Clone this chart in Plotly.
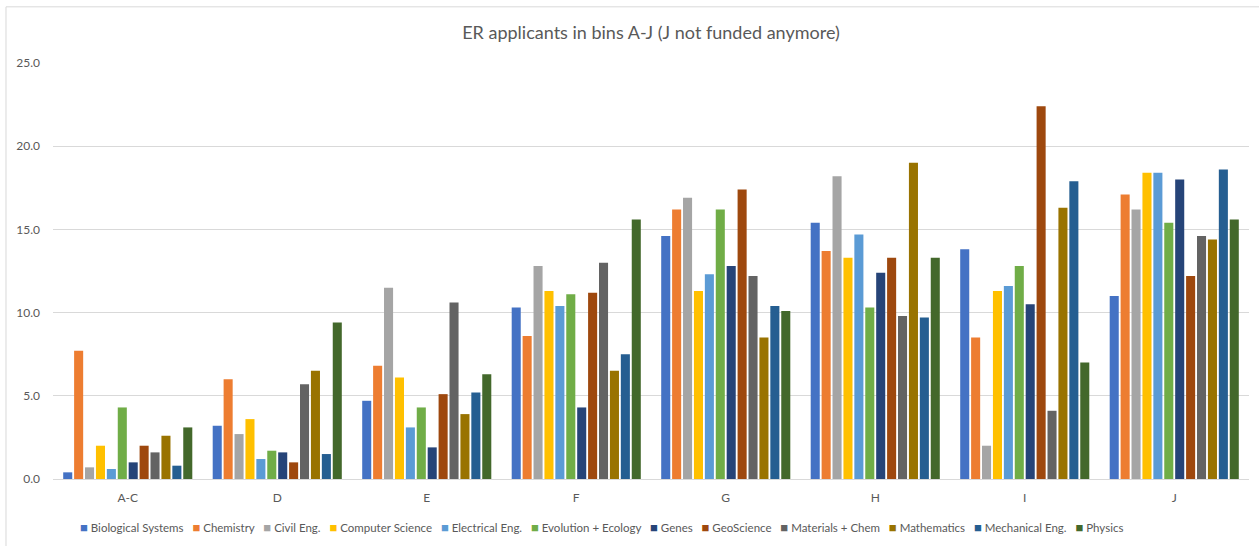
import plotly.graph_objects as go

categories = ["A-C", "D", "E", "F", "G", "H", "I", "J"]

series_names = [
    "Biological Systems", "Chemistry", "Civil Eng.", "Computer Science",
    "Electrical Eng.", "Evolution + Ecology", "Genes", "GeoScience",
    "Materials + Chem", "Mathematics", "Mechanical Eng.", "Physics",
]

series_colors = [
    "#4472C4", "#ED7D31", "#A5A5A5", "#FFC000", "#5B9BD5", "#70AD47",
    "#264478", "#9E480E", "#636363", "#997300", "#255E91", "#43682B",
]

bio = [0.4, 3.2, 4.7, 10.3, 14.6, 15.4, 13.8, 11.0]
chem = [7.7, 6.0, 6.8, 8.6, 16.2, 13.7, 8.5, 17.1]
civil = [0.7, 2.7, 11.5, 12.8, 16.9, 18.2, 2.0, 16.2]
cs = [2.0, 3.6, 6.1, 11.3, 11.3, 13.3, 11.3, 18.4]
ee = [0.6, 1.2, 3.1, 10.4, 12.3, 14.7, 11.6, 18.4]
evo = [4.3, 1.7, 4.3, 11.1, 16.2, 10.3, 12.8, 15.4]
genes = [1.0, 1.6, 1.9, 4.3, 12.8, 12.4, 10.5, 18.0]
geo = [2.0, 1.0, 5.1, 11.2, 17.4, 13.3, 22.4, 12.2]
materials = [1.6, 5.7, 10.6, 13.0, 12.2, 9.8, 4.1, 14.6]
math = [2.6, 6.5, 3.9, 6.5, 8.5, 19.0, 16.3, 14.4]
mech = [0.8, 1.5, 5.2, 7.5, 10.4, 9.7, 17.9, 18.6]
physics = [3.1, 9.4, 6.3, 15.6, 10.1, 13.3, 7.0, 15.6]

series_values = [bio, chem, civil, cs, ee, evo, genes, geo, materials, math, mech, physics]

title_text = "ER applicants in bins A-J (J not funded anymore)"
y_tick_vals = [0, 5, 10, 15, 20, 25]
y_tick_text = ["0.0", "5.0", "10.0", "15.0", "20.0", "25.0"]

FONT = "Lato"
TEXT_COLOR = "#595959"
GRID = "#D9D9D9"

fig = go.Figure()
for name, color, vals in zip(series_names, series_colors, series_values):
    fig.add_trace(go.Bar(
        name=name, x=categories, y=vals,
        marker=dict(color=color, line=dict(width=0)),
    ))

# legend drawn as a single centered line of text built from the series lists
legend_parts = [
    f'<span style="color:{c};font-size:13px">■</span>\u00a0{n}'
    for n, c in zip(series_names, series_colors)
]
legend_text = "\u00a0\u00a0\u00a0".join(legend_parts)

fig.update_layout(
    width=1259, height=546,
    margin=dict(l=53, r=10, t=63, b=67),
    paper_bgcolor="white", plot_bgcolor="white",
    font=dict(family=FONT, color=TEXT_COLOR, size=12),
    title=dict(text=title_text, x=0.5, xref="paper", xanchor="center",
               y=0.9396, yref="container", yanchor="middle",
               font=dict(family=FONT, size=18, color=TEXT_COLOR)),
    barmode="group", bargap=0.124, bargroupgap=0.17,
    showlegend=False,
    xaxis=dict(showgrid=False, showline=True, linecolor=GRID, linewidth=1,
               ticks="", tickfont=dict(size=12, color=TEXT_COLOR),
               ticklabelstandoff=8),
    yaxis=dict(range=[0, 25], tickvals=y_tick_vals, ticktext=y_tick_text,
               showgrid=True, gridcolor=GRID, gridwidth=1,
               zeroline=False, showline=False, ticks="",
               tickfont=dict(size=12, color=TEXT_COLOR),
               ticklabelstandoff=12),
    annotations=[dict(
        text=legend_text, xref="paper", yref="paper",
        x=0.4586, y=-0.1147, xanchor="center", yanchor="middle",
        showarrow=False, font=dict(family=FONT, size=11.5, color=TEXT_COLOR),
    )],
    shapes=[dict(
        type="rect", xref="paper", yref="paper",
        x0=-0.0393, x1=1.2, y0=-0.5, y1=1.135,
        line=dict(color=GRID, width=1), fillcolor="rgba(0,0,0,0)",
        layer="below",
    )],
)

fig.write_html("out.html")
